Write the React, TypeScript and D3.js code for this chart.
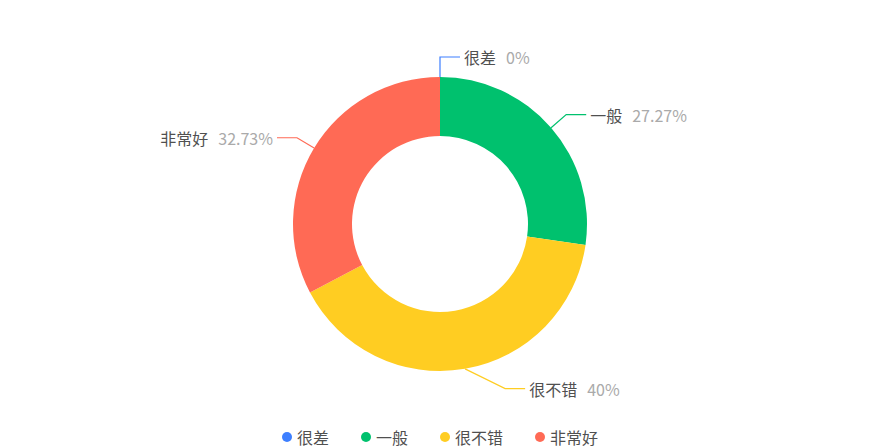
import React from "react";
import * as d3 from "d3";

const categories = ["很差", "一般", "很不错", "非常好"];
const values = [0, 15, 22, 18];
const percentLabels = ["0%", "27.27%", "40%", "32.73%"];
const colors = ["#3D7FFF", "#00C16E", "#FFCD22", "#FF6A55"];

const W = 880;
const H = 448;
const cx = 440;
const cy = 224;
const outerR = 147;
const innerR = 88;
const len1 = 20;
const len2 = 20;
const FONT = "'Noto Sans CJK SC', 'Noto Sans', sans-serif";

type Item = { name: string; value: number; pct: string; color: string };
const items: Item[] = categories.map((name, i) => ({
  name,
  value: values[i],
  pct: percentLabels[i],
  color: colors[i],
}));

export default function App() {
  const pie = d3.pie<Item>().value((d) => d.value).sort(null);
  const arcs = pie(items);
  const arc = d3.arc<d3.PieArcDatum<Item>>().innerRadius(innerR).outerRadius(outerR);

  const labels = arcs.map((a) => {
    const mid = (a.startAngle + a.endAngle) / 2;
    const sx = Math.sin(mid);
    const sy = -Math.cos(mid);
    const dir = sx < -1e-6 ? -1 : 1;
    const p1: [number, number] = [cx + outerR * sx, cy + outerR * sy];
    let x2 = cx + (outerR + len1) * sx;
    const y2 = cy + (outerR + len1) * sy;
    if (y2 > cy) {
      const minDx = (outerR + len1) * 0.39;
      if (Math.abs(x2 - cx) < minDx) x2 = cx + dir * minDx;
    }
    const p2: [number, number] = [x2, y2];
    const p3: [number, number] = [x2 + dir * len2, y2];
    return { a, p1, p2, p3, dir };
  });

  const line = d3.line();

  // legend layout
  const legendFont = 16;
  const charW = 16;
  const dotR = 5;
  const gap = 5;
  const spacing = 32;
  const widths = items.map((d) => dotR * 2 + gap + d.name.length * charW);
  const total = d3.sum(widths) + spacing * (items.length - 1);
  let lx = cx - total / 2;
  const legendY = 437;
  const legend = items.map((d, i) => {
    const x = lx;
    lx += widths[i] + spacing;
    return { d, x };
  });

  return (
    <svg width={W} height={H} style={{ position: "absolute", left: 0, top: 0, background: "#fff" }}>
      <g transform={`translate(${cx},${cy})`}>
        {arcs.map((a, i) => (
          <path key={i} d={arc(a) || ""} fill={a.data.color} />
        ))}
      </g>
      {labels.map((l, i) => (
        <g key={i}>
          <path d={line([l.p1, l.p2, l.p3]) || ""} fill="none" stroke={l.a.data.color} strokeWidth={1.2} />
          <text
            x={l.p3[0] + l.dir * 4}
            y={l.p3[1]}
            textAnchor={l.dir < 0 ? "end" : "start"}
            dominantBaseline="central"
            fontFamily={FONT}
            fontSize={16}
          >
            <tspan fill="#505050">{l.a.data.name}</tspan>
            <tspan fill="#aaa" dx={10}>{l.a.data.pct}</tspan>
          </text>
        </g>
      ))}
      {legend.map(({ d, x }, i) => (
        <g key={i}>
          <circle cx={x + dotR} cy={legendY} r={dotR} fill={d.color} />
          <text
            x={x + dotR * 2 + gap}
            y={legendY}
            dominantBaseline="central"
            fontFamily={FONT}
            fontSize={legendFont}
            fill="#505050"
          >
            {d.name}
          </text>
        </g>
      ))}
    </svg>
  );
}
